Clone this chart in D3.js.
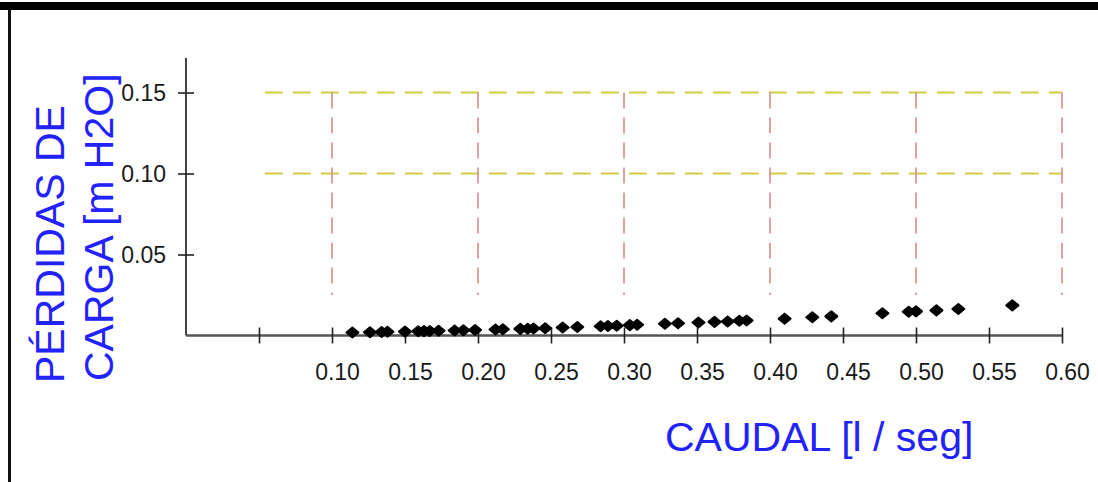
<!DOCTYPE html>
<html>
<head>
<meta charset="utf-8">
<script src="https://cdn.jsdelivr.net/npm/d3@7"></script>
<style>
  html, body { margin: 0; padding: 0; background: #fff; }
  svg { display: block; }
</style>
</head>
<body>
<svg id="chart" width="1098" height="482"></svg>
<script>
// Measured flow (l/seg) and head loss (m H2O)
const caudal = [
  0.114, 0.126, 0.134, 0.138, 0.150, 0.159, 0.163, 0.167, 0.173, 0.184,
  0.190, 0.198, 0.212, 0.217, 0.229, 0.234, 0.238, 0.246, 0.258, 0.268,
  0.284, 0.289, 0.295, 0.304, 0.309, 0.328, 0.337, 0.351, 0.362, 0.371,
  0.379, 0.384, 0.410, 0.429, 0.442, 0.477, 0.495, 0.500, 0.514, 0.529,
  0.566
];
const perdidas = [
  0.0018, 0.0020, 0.0022, 0.0023, 0.0024, 0.0026, 0.0027, 0.0028, 0.0029, 0.0031,
  0.0032, 0.0034, 0.0037, 0.0038, 0.0041, 0.0042, 0.0043, 0.0045, 0.0049, 0.0052,
  0.0057, 0.0058, 0.0060, 0.0064, 0.0066, 0.0072, 0.0075, 0.0080, 0.0084, 0.0087,
  0.0091, 0.0093, 0.0104, 0.0113, 0.0118, 0.0137, 0.0147, 0.0149, 0.0155, 0.0163,
  0.0186
];

const xTicks = [0.05, 0.10, 0.15, 0.20, 0.25, 0.30, 0.35, 0.40, 0.45, 0.50, 0.55, 0.60];
const xTickLabels = ["", "0.10", "0.15", "0.20", "0.25", "0.30", "0.35", "0.40", "0.45", "0.50", "0.55", "0.60"];
const yTicks = [0.05, 0.10, 0.15];
const yTickLabels = ["0.05", "0.10", "0.15"];

// Reference grid
const hGrid = [0.10, 0.15];
const vGrid = [0.10, 0.20, 0.30, 0.40, 0.50, 0.60];
const hGridFrom = 0.054, hGridTo = 0.60;
const vGridFrom = 0.025, vGridTo = 0.15;

const xTitle = "CAUDAL [l / seg]";
const yTitle = ["PÉRDIDAS DE", "CARGA [m H2O]"];

const svg = d3.select("#chart");
const font = "'Liberation Sans', Arial, sans-serif";

const x = d3.scaleLinear().domain([0, 0.60]).range([186, 1062]);
const y = d3.scaleLinear().domain([0, 0.1713]).range([335.5, 58]);

// Page frame: heavy rule along the top, thin rule down the left
svg.append("rect").attr("x", 0).attr("y", 2).attr("width", 1098).attr("height", 8).attr("fill", "#000");
svg.append("rect").attr("x", 8).attr("y", 10).attr("width", 3).attr("height", 472).attr("fill", "#111");

// Grid
const grid = svg.append("g");
grid.selectAll("line.h").data(hGrid).join("line")
  .attr("class", "h")
  .attr("x1", x(hGridFrom)).attr("x2", x(hGridTo))
  .attr("y1", d => y(d)).attr("y2", d => y(d))
  .attr("stroke", "#d0cc48").attr("stroke-width", 2)
  .attr("stroke-dasharray", "18 10");
grid.selectAll("line.v").data(vGrid).join("line")
  .attr("class", "v")
  .attr("x1", d => x(d)).attr("x2", d => x(d))
  .attr("y1", y(vGridTo)).attr("y2", y(vGridFrom))
  .attr("stroke", "#d98a8a").attr("stroke-width", 1.6)
  .attr("stroke-dasharray", "16 9");

// Axes
const xAxis = svg.append("g")
  .attr("transform", `translate(0,${y(0)})`)
  .call(d3.axisBottom(x).tickValues(xTicks)
    .tickFormat((d, i) => xTickLabels[i]).tickSizeOuter(0).tickSize(8));
xAxis.select(".domain").attr("stroke", "#555").attr("stroke-width", 2.5)
  .attr("d", `M${x(0)},0H${x(0.60)}`);
xAxis.selectAll(".tick line").attr("y1", -8).attr("y2", 8).attr("stroke", "#222").attr("stroke-width", 1.6);
xAxis.selectAll(".tick text")
  .attr("y", 44).attr("dy", 0).attr("dx", 5)
  .attr("font-family", font).attr("font-size", 23).attr("fill", "#1a1a1a");

const yAxis = svg.append("g")
  .attr("transform", `translate(${x(0)},0)`)
  .call(d3.axisLeft(y).tickValues(yTicks)
    .tickFormat((d, i) => yTickLabels[i]).tickSizeOuter(0).tickSize(8));
yAxis.select(".domain").attr("stroke", "#444").attr("stroke-width", 2)
  .attr("d", `M0,${y(0.1713)}V${y(0)}`);
yAxis.selectAll(".tick line").attr("x1", -8).attr("x2", 8).attr("stroke", "#222").attr("stroke-width", 1.6);
yAxis.selectAll(".tick text")
  .attr("x", -20).attr("dy", "0.36em")
  .attr("font-family", font).attr("font-size", 23).attr("fill", "#1a1a1a");

// Data markers
const diamond = "M-6,0L0,-5L6,0L0,5Z";
svg.append("g").selectAll("path").data(caudal).join("path")
  .attr("d", diamond)
  .attr("transform", (d, i) => `translate(${x(d)},${y(perdidas[i])})`)
  .attr("fill", "#000").attr("stroke", "#000").attr("stroke-width", 2)
  .attr("stroke-linejoin", "round");

// Axis titles
svg.append("text")
  .attr("x", 665).attr("y", 451)
  .attr("font-family", font).attr("font-size", 41).attr("fill", "#2222ff")
  .text(xTitle);

const yt = [{ tx: 64, ty: 383 }, { tx: 113, ty: 381 }];
svg.selectAll("text.ytitle").data(yTitle).join("text")
  .attr("class", "ytitle")
  .attr("transform", (d, i) => `translate(${yt[i].tx},${yt[i].ty}) rotate(-90)`)
  .attr("font-family", font).attr("font-size", 41).attr("fill", "#2222ff")
  .text(d => d);
</script>
</body>
</html>
